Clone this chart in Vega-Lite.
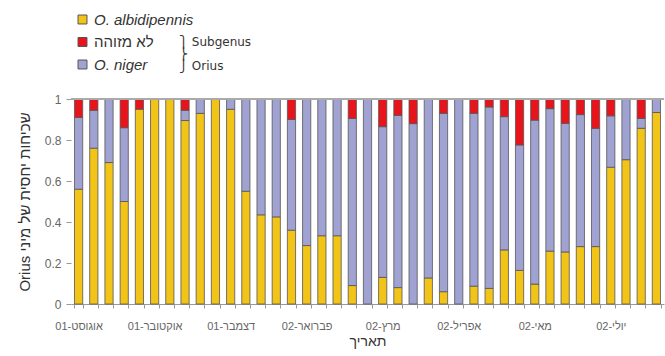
{
  "$schema": "https://vega.github.io/schema/vega-lite/v6.json",
  "width": 665,
  "height": 356,
  "autosize": {"type": "fit", "contains": "padding"},
  "padding": {"left": 17, "top": 8, "right": 0, "bottom": 8},
  "config": {
    "view": {"stroke": null},
    "font": "Liberation Sans, Arial, DejaVu Sans, sans-serif"
  },
  "data": {
    "values": [
      {"i": 1, "sp": "O. albidipennis", "v": 0.56}, {"i": 1, "sp": "O. niger", "v": 0.35}, {"i": 1, "sp": "לא מזוהה", "v": 0.09},
      {"i": 2, "sp": "O. albidipennis", "v": 0.76}, {"i": 2, "sp": "O. niger", "v": 0.185}, {"i": 2, "sp": "לא מזוהה", "v": 0.055},
      {"i": 3, "sp": "O. albidipennis", "v": 0.69}, {"i": 3, "sp": "O. niger", "v": 0.31},
      {"i": 4, "sp": "O. albidipennis", "v": 0.5}, {"i": 4, "sp": "O. niger", "v": 0.36}, {"i": 4, "sp": "לא מזוהה", "v": 0.14},
      {"i": 5, "sp": "O. albidipennis", "v": 0.95}, {"i": 5, "sp": "לא מזוהה", "v": 0.05},
      {"i": 6, "sp": "O. albidipennis", "v": 1},
      {"i": 7, "sp": "O. albidipennis", "v": 1},
      {"i": 8, "sp": "O. albidipennis", "v": 0.895}, {"i": 8, "sp": "O. niger", "v": 0.05}, {"i": 8, "sp": "לא מזוהה", "v": 0.055},
      {"i": 9, "sp": "O. albidipennis", "v": 0.93}, {"i": 9, "sp": "O. niger", "v": 0.07},
      {"i": 10, "sp": "O. albidipennis", "v": 1},
      {"i": 11, "sp": "O. albidipennis", "v": 0.95}, {"i": 11, "sp": "O. niger", "v": 0.05},
      {"i": 12, "sp": "O. albidipennis", "v": 0.55}, {"i": 12, "sp": "O. niger", "v": 0.45},
      {"i": 13, "sp": "O. albidipennis", "v": 0.435}, {"i": 13, "sp": "O. niger", "v": 0.565},
      {"i": 14, "sp": "O. albidipennis", "v": 0.425}, {"i": 14, "sp": "O. niger", "v": 0.575},
      {"i": 15, "sp": "O. albidipennis", "v": 0.36}, {"i": 15, "sp": "O. niger", "v": 0.54}, {"i": 15, "sp": "לא מזוהה", "v": 0.1},
      {"i": 16, "sp": "O. albidipennis", "v": 0.285}, {"i": 16, "sp": "O. niger", "v": 0.715},
      {"i": 17, "sp": "O. albidipennis", "v": 0.333}, {"i": 17, "sp": "O. niger", "v": 0.667},
      {"i": 18, "sp": "O. albidipennis", "v": 0.333}, {"i": 18, "sp": "O. niger", "v": 0.667},
      {"i": 19, "sp": "O. albidipennis", "v": 0.09}, {"i": 19, "sp": "O. niger", "v": 0.815}, {"i": 19, "sp": "לא מזוהה", "v": 0.095},
      {"i": 20, "sp": "O. niger", "v": 1},
      {"i": 21, "sp": "O. albidipennis", "v": 0.13}, {"i": 21, "sp": "O. niger", "v": 0.735}, {"i": 21, "sp": "לא מזוהה", "v": 0.135},
      {"i": 22, "sp": "O. albidipennis", "v": 0.08}, {"i": 22, "sp": "O. niger", "v": 0.84}, {"i": 22, "sp": "לא מזוהה", "v": 0.08},
      {"i": 23, "sp": "O. niger", "v": 0.88}, {"i": 23, "sp": "לא מזוהה", "v": 0.12},
      {"i": 24, "sp": "O. albidipennis", "v": 0.127}, {"i": 24, "sp": "O. niger", "v": 0.873},
      {"i": 25, "sp": "O. albidipennis", "v": 0.06}, {"i": 25, "sp": "O. niger", "v": 0.87}, {"i": 25, "sp": "לא מזוהה", "v": 0.07},
      {"i": 26, "sp": "O. niger", "v": 1},
      {"i": 27, "sp": "O. albidipennis", "v": 0.087}, {"i": 27, "sp": "O. niger", "v": 0.843}, {"i": 27, "sp": "לא מזוהה", "v": 0.07},
      {"i": 28, "sp": "O. albidipennis", "v": 0.076}, {"i": 28, "sp": "O. niger", "v": 0.885}, {"i": 28, "sp": "לא מזוהה", "v": 0.039},
      {"i": 29, "sp": "O. albidipennis", "v": 0.264}, {"i": 29, "sp": "O. niger", "v": 0.65}, {"i": 29, "sp": "לא מזוהה", "v": 0.086},
      {"i": 30, "sp": "O. albidipennis", "v": 0.164}, {"i": 30, "sp": "O. niger", "v": 0.612}, {"i": 30, "sp": "לא מזוהה", "v": 0.224},
      {"i": 31, "sp": "O. albidipennis", "v": 0.097}, {"i": 31, "sp": "O. niger", "v": 0.8}, {"i": 31, "sp": "לא מזוהה", "v": 0.103},
      {"i": 32, "sp": "O. albidipennis", "v": 0.258}, {"i": 32, "sp": "O. niger", "v": 0.695}, {"i": 32, "sp": "לא מזוהה", "v": 0.047},
      {"i": 33, "sp": "O. albidipennis", "v": 0.254}, {"i": 33, "sp": "O. niger", "v": 0.627}, {"i": 33, "sp": "לא מזוהה", "v": 0.119},
      {"i": 34, "sp": "O. albidipennis", "v": 0.28}, {"i": 34, "sp": "O. niger", "v": 0.644}, {"i": 34, "sp": "לא מזוהה", "v": 0.076},
      {"i": 35, "sp": "O. albidipennis", "v": 0.28}, {"i": 35, "sp": "O. niger", "v": 0.577}, {"i": 35, "sp": "לא מזוהה", "v": 0.143},
      {"i": 36, "sp": "O. albidipennis", "v": 0.667}, {"i": 36, "sp": "O. niger", "v": 0.251}, {"i": 36, "sp": "לא מזוהה", "v": 0.082},
      {"i": 37, "sp": "O. albidipennis", "v": 0.704}, {"i": 37, "sp": "O. niger", "v": 0.296},
      {"i": 38, "sp": "O. albidipennis", "v": 0.857}, {"i": 38, "sp": "O. niger", "v": 0.048}, {"i": 38, "sp": "לא מזוהה", "v": 0.095},
      {"i": 39, "sp": "O. albidipennis", "v": 0.934}, {"i": 39, "sp": "O. niger", "v": 0.066}
    ]
  },
  "layer": [
    {
      "mark": {"type": "bar", "stroke": "#555", "strokeWidth": 0.8},
      "encoding": {
        "x": {
          "field": "i",
          "type": "ordinal",
          "scale": {"paddingInner": 0.46, "paddingOuter": 0.23},
          "axis": {
            "title": "תאריך",
            "titleFontSize": 14,
            "titleFontWeight": "normal",
            "titleColor": "#333",
            "titlePadding": 3,
            "labelAngle": 0,
            "labelFontSize": 11,
            "labelColor": "#666",
            "labelPadding": 12,
            "labelOverlap": false,
            "labelExpr": "datum.value == 1 ? 'אוגוסט-01' : datum.value == 6 ? 'אוקטובר-01' : datum.value == 11 ? 'דצמבר-01' : datum.value == 16 ? 'פברואר-02' : datum.value == 21 ? 'מרץ-02' : datum.value == 26 ? 'אפריל-02' : datum.value == 31 ? 'מאי-02' : datum.value == 36 ? 'יולי-02' : ''",
            "tickBand": "extent",
            "tickSize": 4,
            "tickColor": "#999",
            "domainColor": "#999"
          }
        },
        "y": {
          "field": "v",
          "type": "quantitative",
          "stack": "zero",
          "scale": {"domain": [0, 1]},
          "axis": {
            "title": "\u202Bשכיחות יחסית של מיני Orius\u202C",
            "titleFontSize": 15,
            "titleFontWeight": "normal",
            "titleColor": "#333",
            "titlePadding": 12,
            "labelFontSize": 12,
            "labelColor": "#666",
            "labelPadding": 5,
            "labelOverlap": false,
            "format": "~g",
            "values": [0, 0.2, 0.4, 0.6, 0.8, 1],
            "domain": false,
            "grid": false,
            "tickSize": 5,
            "tickColor": "#999"
          }
        },
        "order": {"field": "sp", "sort": "ascending"},
        "color": {
          "field": "sp",
          "type": "nominal",
          "scale": {
            "domain": ["O. albidipennis", "לא מזוהה", "O. niger"],
            "range": ["#F2C418", "#E8141C", "#A0A2D2"]
          },
          "legend": {
            "orient": "top",
            "direction": "vertical",
            "padding": 4,
            "title": ["⎫ Subgenus", "⎬", "⎭ Orius"],
            "titleOrient": "right",
            "titleAnchor": "end",
            "titleFont": "DejaVu Sans",
            "titleFontSize": 12,
            "titleFontWeight": "normal",
            "titleColor": "#333",
            "titleLineHeight": 11.8,
            "titlePadding": -14,
            "labelFontSize": 15,
            "labelColor": "#333",
            "symbolType": "square",
            "symbolSize": 80,
            "symbolStrokeColor": "#555",
            "symbolStrokeWidth": 1,
            "rowPadding": 6.5,
            "offset": 22,
            "encode": {
              "labels": {"update": {"fontStyle": {"signal": "datum.label == 'לא מזוהה' ? 'normal' : 'italic'"}}}
            }
          }
        }
      }
    },
    {
      "mark": {"type": "rule", "color": "#aaa"},
      "encoding": {"y": {"datum": 1}}
    }
  ]
}
